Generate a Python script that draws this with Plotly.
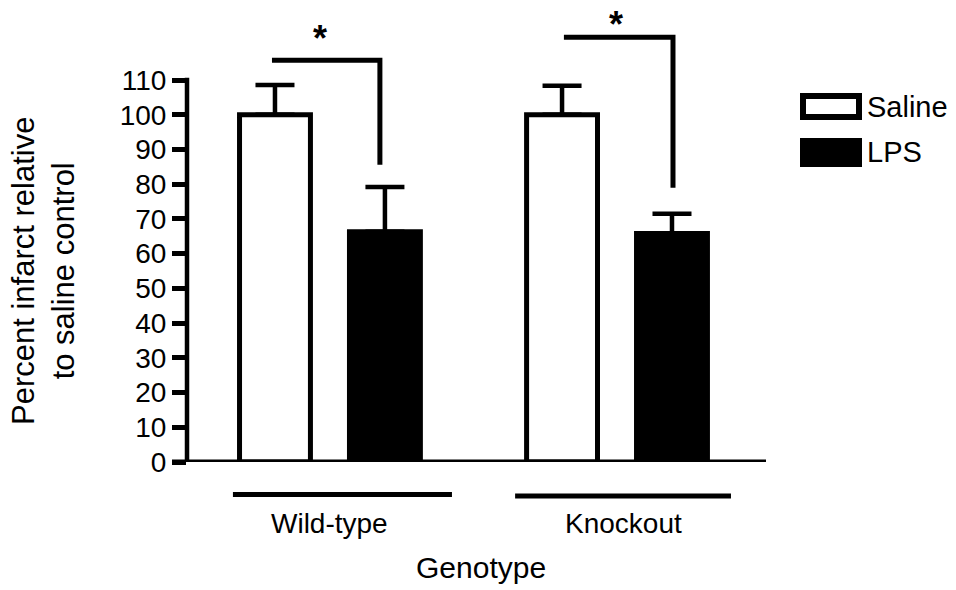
import plotly.graph_objects as go

# ---------------- data ----------------
groups = ["Wild-type", "Knockout"]
series = ["Saline", "LPS"]
saline_mean = [100.0, 100.0]
saline_err = [8.6, 8.4]
lps_mean = [66.3, 65.8]
lps_err = [12.9, 5.7]
y_ticks = [0, 10, 20, 30, 40, 50, 60, 70, 80, 90, 100, 110]

# significance brackets (value units): top of bracket, bottom of the drop leg
bracket_top = [115.7, 122.3]
bracket_bottom = [85.6, 79.0]
sig_label = ["*", "*"]

# ---------------- layout geometry ----------------
W, H = 956, 590
ML, MR, MT, MB = 187, 190, 28, 128
YMAX = 125
XR = [-0.498, 1.519]
PW = W - ML - MR
PH = H - MT - MB
FONT = "Liberation Sans, Arial, Helvetica, sans-serif"


def px_x(px):
    return (px - ML) / PW


def px_y(py):
    return (H - MB - py) / PH


xpos = list(range(len(groups)))

fig = go.Figure()
fig.add_trace(go.Bar(
    x=xpos, y=saline_mean, name=series[0],
    marker=dict(color="white", line=dict(color="black", width=5)),
    error_y=dict(type="data", symmetric=False, array=saline_err,
                 arrayminus=[0] * len(groups), color="black",
                 thickness=4.5, width=19.5),
))
fig.add_trace(go.Bar(
    x=xpos, y=lps_mean, name=series[1],
    marker=dict(color="black", line=dict(color="black", width=5)),
    error_y=dict(type="data", symmetric=False, array=lps_err,
                 arrayminus=[0] * len(groups), color="black",
                 thickness=4.5, width=19.5),
))

shapes = []
annotations = []

# axis lines
shapes.append(dict(type="line", xref="paper", yref="y", x0=px_x(172), x1=1.0,
                   y0=0, y1=0, line=dict(color="black", width=5)))
shapes.append(dict(type="line", xref="paper", yref="y", x0=0, x1=0,
                   y0=-0.6, y1=110.7, line=dict(color="black", width=4.5)))

# significance brackets
br_x0 = [-0.202, 0.815]
br_x1 = [0.174, 1.195]
star_x = [-0.035, 0.9965]
star_py = [38, 25]
for i in range(len(groups)):
    shapes.append(dict(
        type="path", xref="x", yref="y",
        path=f"M {br_x0[i]},{bracket_top[i]} L {br_x1[i]},{bracket_top[i]} L {br_x1[i]},{bracket_bottom[i]}",
        line=dict(color="black", width=5)))
    annotations.append(dict(x=star_x[i], xref="x", y=px_y(star_py[i]), yref="paper",
                            text="<b>" + sig_label[i] + "</b>", showarrow=False,
                            font=dict(size=36, color="black", family=FONT),
                            xanchor="center", yanchor="middle"))

# group underlines + labels
ul_x0 = [-0.338, 0.645]
ul_x1 = [0.425, 1.397]
ul_py = [494.5, 496]
lab_x = [0.0, 1.024]
for i, g in enumerate(groups):
    shapes.append(dict(type="line", xref="x", yref="paper", x0=ul_x0[i], x1=ul_x1[i],
                       y0=px_y(ul_py[i]), y1=px_y(ul_py[i]),
                       line=dict(color="black", width=5)))
    annotations.append(dict(x=lab_x[i], xref="x", y=px_y(523), yref="paper",
                            text=g, showarrow=False,
                            font=dict(size=28, color="black", family=FONT),
                            xanchor="center", yanchor="middle"))

# axis titles
annotations.append(dict(x=px_x(481), xref="paper", y=px_y(567), yref="paper",
                        text="Genotype", showarrow=False,
                        font=dict(size=30, color="black", family=FONT),
                        xanchor="center", yanchor="middle"))
annotations.append(dict(x=px_x(43), xref="paper", y=px_y(271), yref="paper",
                        text="Percent infarct relative<br>to saline control",
                        showarrow=False, textangle=-90,
                        font=dict(size=31, color="black", family=FONT),
                        xanchor="center", yanchor="middle"))

# legend (drawn manually to match the large swatches)
leg_fill = ["white", "black"]
leg_py = [(96, 117), (141, 164)]
leg_text_py = [107, 152]
for i, s in enumerate(series):
    shapes.append(dict(type="rect", xref="paper", yref="paper",
                       x0=px_x(803), x1=px_x(859),
                       y0=px_y(leg_py[i][1]), y1=px_y(leg_py[i][0]),
                       fillcolor=leg_fill[i], line=dict(color="black", width=6)))
    annotations.append(dict(x=px_x(865), xref="paper", y=px_y(leg_text_py[i]), yref="paper",
                            text=s, showarrow=False,
                            font=dict(size=29, color="black", family=FONT),
                            xanchor="left", yanchor="middle"))

fig.update_layout(
    width=W, height=H,
    margin=dict(l=ML, r=MR, t=MT, b=MB),
    paper_bgcolor="white", plot_bgcolor="white",
    barmode="group", bargap=0.234, bargroupgap=0.355,
    showlegend=False,
    shapes=shapes, annotations=annotations,
    font=dict(family=FONT, color="black"),
    xaxis=dict(range=XR, showticklabels=False, ticks="", showline=False,
               showgrid=False, zeroline=False, fixedrange=True),
    yaxis=dict(range=[0, YMAX], tickvals=y_ticks, ticks="outside", ticklen=14,
               tickwidth=5, tickcolor="black", showline=False, showgrid=False,
               zeroline=False, tickfont=dict(size=28, color="black", family=FONT),
               fixedrange=True),
)

fig.write_html("out.html")
